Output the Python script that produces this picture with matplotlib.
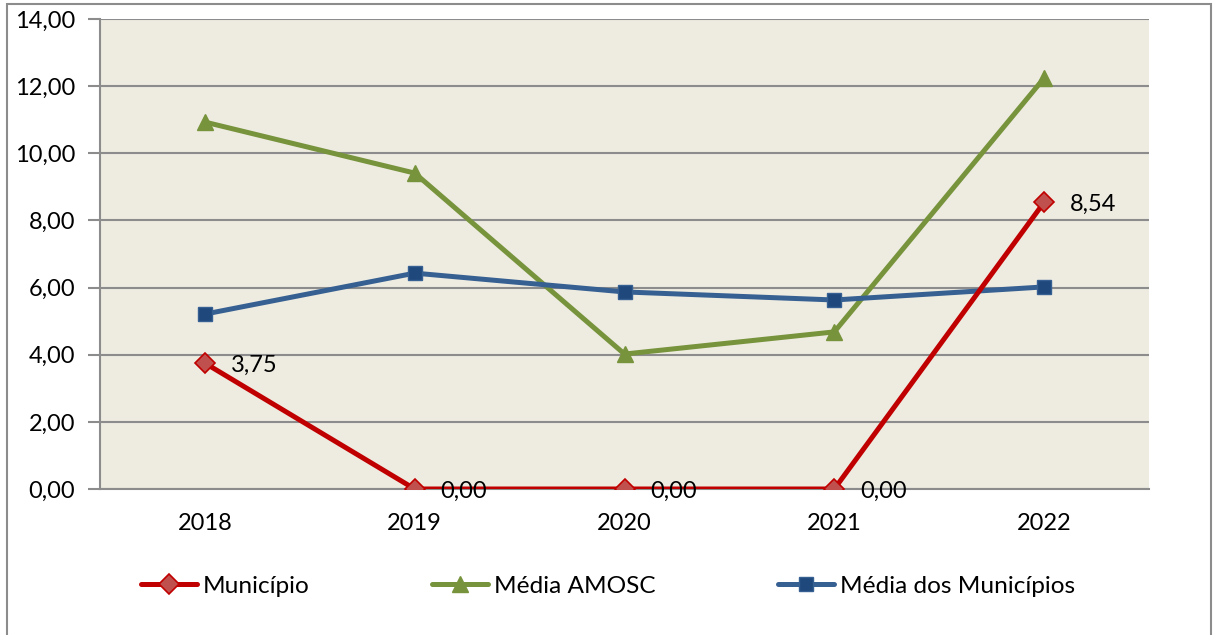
import matplotlib
matplotlib.use("Agg")
import matplotlib.pyplot as plt
from matplotlib.patches import Rectangle

years = ["2018", "2019", "2020", "2021", "2022"]
municipio = [3.75, 0.00, 0.00, 0.00, 8.54]
media_amosc = [10.93, 9.41, 4.02, 4.68, 12.24]
media_municipios = [5.21, 6.43, 5.87, 5.63, 6.02]
yticks = [0, 2, 4, 6, 8, 10, 12, 14]

plt.rcParams['font.family'] = ['Lato', 'DejaVu Sans']
FS = 17

W, H = 1216, 635
fig = plt.figure(figsize=(W / 100, H / 100), dpi=100)
ax = fig.add_axes([100 / W, 1 - 489 / H, (1149 - 100) / W, (489 - 19) / H])
ax.set_facecolor("#EEECE1")

x = list(range(len(years)))
ax.plot(x, municipio, color="#C00000", lw=3.6, marker="D", ms=10,
        mfc="#C0504D", mec="#C00000", mew=1.2, label="Município", zorder=5,
        solid_capstyle="round")
ax.plot(x, media_amosc, color="#77933C", lw=3.6, marker="^", ms=11,
        mfc="#77933C", mec="#77933C", label="Média AMOSC", zorder=4,
        solid_capstyle="round")
ax.plot(x, media_municipios, color="#376092", lw=3.6, marker="s", ms=10,
        mfc="#1F497D", mec="#376092", mew=1, label="Média dos Municípios", zorder=4,
        solid_capstyle="round")

for xi, v in zip(x, municipio):
    ax.annotate(f"{v:.2f}".replace(".", ","), (xi, v), xytext=(18.5, -1.5),
                textcoords="offset points", ha="left", va="center", fontsize=FS,
                color="black", zorder=6)

ax.set_xlim(-0.5, len(years) - 0.5)
ax.set_ylim(0, 14)
ax.set_yticks(yticks)
ax.set_yticklabels([f"{t:.2f}".replace(".", ",") for t in yticks], fontsize=FS)
ax.set_xticks(x)
ax.set_xticklabels(years, fontsize=FS)
ax.tick_params(axis="x", length=0, pad=17)
ax.tick_params(axis="y", length=9, width=1.5, color="#8C8C8C", pad=9)
ax.yaxis.grid(True, color="#8C8C8C", lw=1.5)
ax.set_axisbelow(True)
for s in ["top", "right"]:
    ax.spines[s].set_visible(False)
for s in ["left", "bottom"]:
    ax.spines[s].set_color("#8C8C8C")
    ax.spines[s].set_linewidth(1.5)

leg = fig.legend(loc="center", bbox_to_anchor=(0.5, 1 - 586 / H), ncol=3,
                 frameon=False, fontsize=17.6, handlelength=2.3, handletextpad=0.25,
                 columnspacing=5.0)

fig.patches.append(Rectangle((7 / W, -0.05), (1211 - 7) / W, 1.05 - 4 / H,
                             transform=fig.transFigure, fill=False,
                             edgecolor="#8C8C8C", lw=1.5))

fig.savefig("out.png", dpi=100)
